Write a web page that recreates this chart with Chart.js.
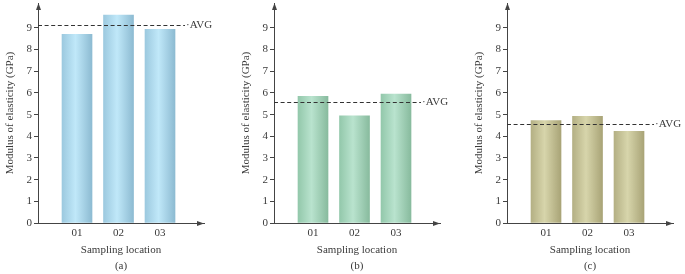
<!DOCTYPE html>
<html>
<head>
<meta charset="utf-8">
<script src="https://cdn.jsdelivr.net/npm/chart.js@4/dist/chart.umd.min.js"></script>
<style>
  html, body { margin: 0; padding: 0; background: #fff; overflow: hidden; }
  body { width: 685px; height: 274px; position: relative; }
  canvas { position: absolute; top: 0; }
</style>
</head>
<body>
<canvas id="ca" width="216" height="274" style="left:0px"></canvas>
<canvas id="cb" width="216" height="274" style="left:236px"></canvas>
<canvas id="cc" width="216" height="274" style="left:469px"></canvas>
<script>
// ---- data ----
const categories = ['01', '02', '03'];
const valuesA = [8.71, 9.59, 8.94];
const valuesB = [5.84, 4.95, 5.95];
const valuesC = [4.72, 4.92, 4.23];
const averages = [9.13, 5.57, 4.57];
const panelLabels = ['(a)', '(b)', '(c)'];
const yTickLabels = ['0', '1', '2', '3', '4', '5', '6', '7', '8', '9'];
const yTitle = 'Modulus of elasticity (GPa)';
const xTitle = 'Sampling location';

// ---- styles ----
const FONT = '"Liberation Serif", "Times New Roman", serif';
const TEXT = '#3a3a3a';
const AXIS = '#444444';
const palettes = [
  ['#9cc9df', '#c0e8f9', '#8dbbd2'],
  ['#93c8ab', '#b9e3ce', '#88bb9e'],
  ['#b4b084', '#d7d5ab', '#a9a477']
];

const avgPlugin = {
  id: 'avgArrows',
  afterDatasetsDraw(chart, args, opts) {
    const {ctx, chartArea: ca, scales: {y}} = chart;
    ctx.save();
    const yy = Math.round(y.getPixelForValue(opts.avg)) + 0.5;
    const xEnd = ca.right - 19;
    ctx.strokeStyle = '#333';
    ctx.lineWidth = 1;
    ctx.setLineDash([4, 2.6]);
    ctx.beginPath();
    ctx.moveTo(ca.left, yy);
    ctx.lineTo(xEnd, yy);
    ctx.stroke();
    ctx.setLineDash([]);
    ctx.fillStyle = TEXT;
    ctx.font = '11px ' + FONT;
    ctx.textBaseline = 'middle';
    ctx.textAlign = 'left';
    ctx.fillText('·AVG', xEnd + 1, yy);
    ctx.restore();
  },
  afterDraw(chart) {
    const {ctx, chartArea: ca} = chart;
    ctx.save();
    ctx.fillStyle = AXIS;
    const ax = Math.round(ca.left) + 0.5;
    const by = Math.round(ca.bottom) + 0.5;
    ctx.beginPath();
    ctx.moveTo(ax, ca.top);
    ctx.lineTo(ax - 2.5, ca.top + 7);
    ctx.lineTo(ax + 2.5, ca.top + 7);
    ctx.closePath();
    ctx.fill();
    ctx.beginPath();
    ctx.moveTo(ca.right, by);
    ctx.lineTo(ca.right - 7, by - 2.5);
    ctx.lineTo(ca.right - 7, by + 2.5);
    ctx.closePath();
    ctx.fill();
    ctx.restore();
  }
};

function makeChart(id, values, avg, label, pal) {
  const ctx = document.getElementById(id).getContext('2d');
  return new Chart(ctx, {
    type: 'bar',
    data: {
      datasets: [{
        data: values.map((v, i) => ({x: i + 1, y: v})),
        barThickness: 30,
        borderWidth: 0,
        backgroundColor(c) {
          const chart = c.chart;
          if (!chart.chartArea || !chart.scales.x) return pal[1];
          const cx = chart.scales.x.getPixelForValue(c.dataIndex + 1);
          const g = chart.ctx.createLinearGradient(cx - 15, 0, cx + 15, 0);
          g.addColorStop(0, pal[0]);
          g.addColorStop(0.45, pal[1]);
          g.addColorStop(1, pal[2]);
          return g;
        }
      }]
    },
    options: {
      responsive: false,
      animation: false,
      events: [],
      layout: {padding: {top: 3, right: 12, left: 0, bottom: 0}},
      plugins: {legend: {display: false}, tooltip: {enabled: false}, avgArrows: {avg}},
      scales: {
        x: {
          type: 'linear',
          offset: false,
          min: 0.06,
          max: 4.06,
          afterFit(s) { s.height = 51; s.paddingLeft = 0; s.paddingRight = 0; },
          afterBuildTicks(s) { s.ticks = categories.map((_, i) => ({value: i + 1})); },
          grid: {display: false, drawTicks: false, offset: false},
          border: {display: true, color: AXIS, width: 1},
          ticks: {
            padding: 4,
            color: TEXT,
            font: {family: FONT, size: 11},
            autoSkip: false,
            maxRotation: 0,
            callback: (v) => categories[Math.round(v) - 1] || ''
          },
          title: {
            display: true,
            text: [xTitle, label],
            color: TEXT,
            font: {family: FONT, size: 11, lineHeight: 16 / 11},
            padding: {top: 0, bottom: 0}
          }
        },
        y: {
          min: 0,
          max: 10.15,
          afterFit(s) { s.width = 38; s.paddingTop = 0; s.paddingBottom = 0; },
          afterBuildTicks(s) { s.ticks = s.ticks.filter(t => t.value <= 9.5); },
          grid: {display: true, drawOnChartArea: false, drawTicks: true, tickLength: 4, color: AXIS, tickColor: AXIS},
          border: {display: true, color: AXIS, width: 1},
          ticks: {
            stepSize: 0.5,
            padding: 2,
            color: TEXT,
            font: {family: FONT, size: 11},
            callback: (v) => Number.isInteger(v) ? (yTickLabels[v] || '') : ''
          },
          title: {
            display: true,
            text: yTitle,
            color: TEXT,
            font: {family: FONT, size: 11},
            padding: {top: 4, bottom: 0}
          }
        }
      }
    },
    plugins: [avgPlugin]
  });
}

makeChart('ca', valuesA, averages[0], panelLabels[0], palettes[0]);
makeChart('cb', valuesB, averages[1], panelLabels[1], palettes[1]);
makeChart('cc', valuesC, averages[2], panelLabels[2], palettes[2]);
</script>
</body>
</html>
